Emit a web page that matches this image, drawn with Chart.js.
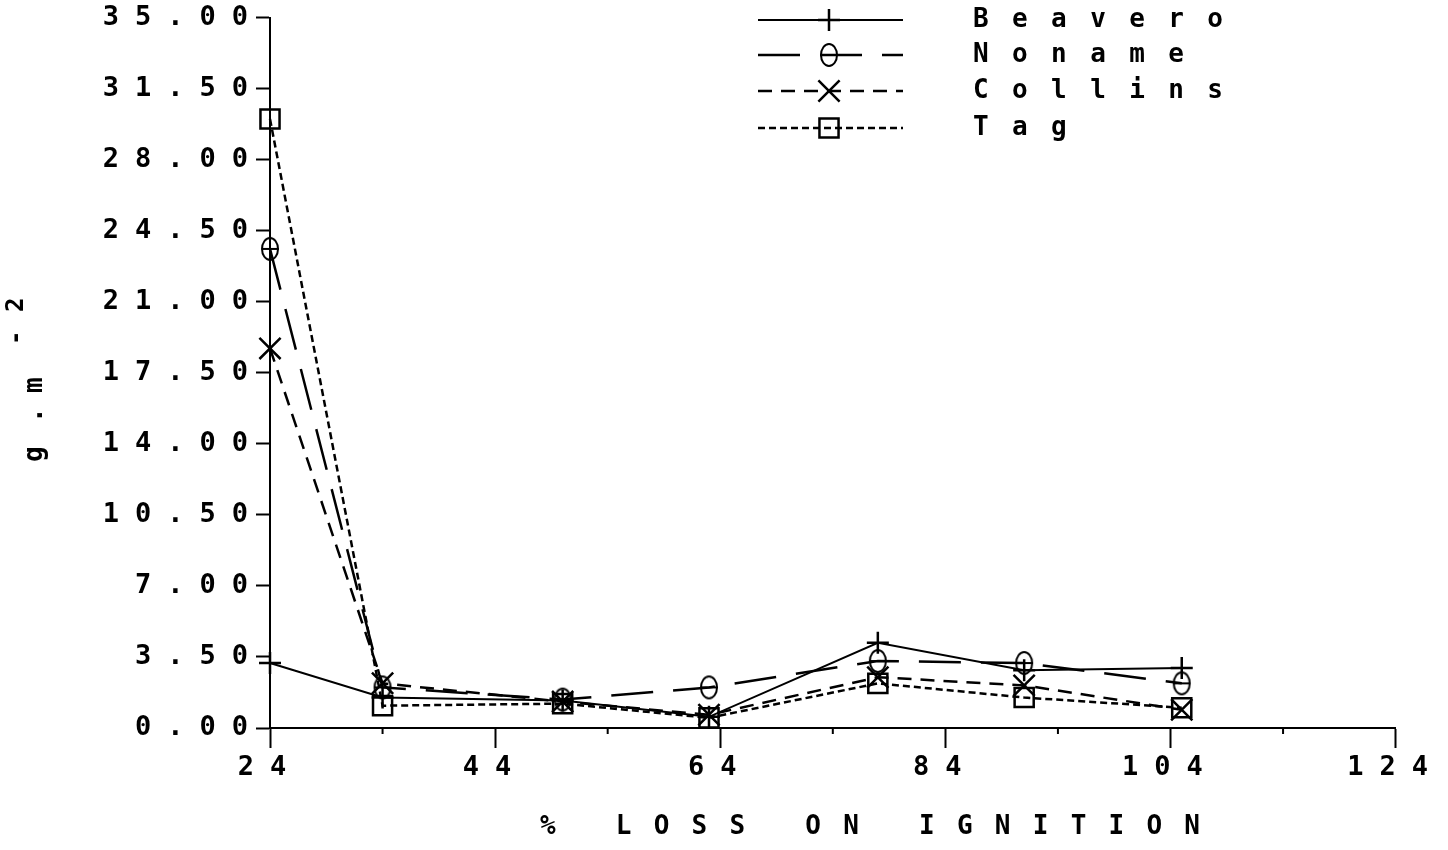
<!DOCTYPE html>
<html>
<head>
<meta charset="utf-8">
<script src="https://cdn.jsdelivr.net/npm/chart.js@4.4.1/dist/chart.umd.min.js"></script>
<style>
  html, body { margin: 0; padding: 0; background: #ffffff; }
  canvas { display: block; }
</style>
</head>
<body>
<canvas id="chart" width="1448" height="850"></canvas>
<script>
// % loss on ignition at each sampling depth
const lossOnIgnition = [24, 34, 50, 63, 78, 91, 105];

// biomass, g.m-2, for each lake
const beavero = [3.2, 1.5, 1.35, 0.55, 4.2, 2.85, 2.95];
const noname  = [23.6, 2.0, 1.4, 2.0, 3.3, 3.2, 2.2];
const collins = [18.7, 2.2, 1.3, 0.65, 2.5, 2.1, 0.9];
const tag     = [30.0, 1.1, 1.2, 0.5, 2.2, 1.5, 1.0];

const seriesNames = ['Beavero', 'Noname', 'Collins', 'Tag'];

// axis ranges and tick steps
const xRange = [24, 124];
const xMajorStep = 20;
const xMinorStep = 10;
const yRange = [0, 35];
const yStep = 3.5;

const xTitle = '% LOSS ON IGNITION';
const yTitle = ['g', '.', 'm', '-', '2'];

const FONT = "'DejaVu Sans Mono', 'Liberation Mono', monospace";
const TICK_SPACING = '16px';

function pairs(values) {
  return lossOnIgnition.map((x, i) => ({ x, y: values[i] }));
}

// hollow theta marker
function thetaMarker() {
  const c = document.createElement('canvas');
  c.width = 24; c.height = 28;
  const g = c.getContext('2d');
  g.strokeStyle = '#000';
  g.lineWidth = 2;
  g.beginPath();
  g.ellipse(12, 14, 8, 11, 0, 0, Math.PI * 2);
  g.stroke();
  g.beginPath();
  g.moveTo(4, 14);
  g.lineTo(21, 14);
  g.stroke();
  return c;
}

const seriesStyle = [
  { values: beavero, dash: [],       width: 2,   point: 'cross',    radius: 11 },
  { values: noname,  dash: [42, 20], width: 2.5, point: thetaMarker(), radius: 12 },
  { values: collins, dash: [14, 9],  width: 2.5, point: 'crossRot', radius: 15 },
  { values: tag,     dash: [7, 4],   width: 2.5, point: 'rect',     radius: 13.5 }
];

const datasets = seriesNames.map((name, i) => {
  const s = seriesStyle[i];
  return {
    label: name,
    data: pairs(s.values),
    borderColor: '#000',
    borderWidth: s.width,
    borderDash: s.dash,
    pointStyle: s.point,
    pointRadius: s.radius,
    pointHoverRadius: s.radius,
    pointBorderWidth: 2.5,
    pointBorderColor: '#000',
    pointBackgroundColor: 'rgba(0,0,0,0)',
    fill: false,
    tension: 0,
    clip: false
  };
});

function drawMarker(ctx, ds, x, y) {
  ctx.save();
  ctx.strokeStyle = '#000';
  ctx.fillStyle = 'rgba(0,0,0,0)';
  ctx.lineWidth = ds.pointBorderWidth;
  ctx.setLineDash([]);
  if (Chart.helpers && Chart.helpers.drawPoint) {
    Chart.helpers.drawPoint(ctx, {
      pointStyle: ds.pointStyle, radius: ds.pointRadius,
      borderWidth: ds.pointBorderWidth, rotation: 0
    }, x, y);
  }
  ctx.restore();
}

function spacedText(ctx, text, x, y, width) {
  ctx.letterSpacing = '0px';
  const w0 = ctx.measureText(text).width;
  const s = (width - w0) / (text.length - 1);
  ctx.letterSpacing = s + 'px';
  ctx.fillText(text, x, y);
  return s;
}

const plotterDecor = {
  id: 'plotterDecor',
  beforeUpdate(chart) { chart.ctx.letterSpacing = TICK_SPACING; },
  beforeDraw(chart) { chart.ctx.letterSpacing = TICK_SPACING; },
  afterDraw(chart) {
    const ctx = chart.ctx;
    const xs = chart.scales.x;
    const axisY = chart.chartArea.bottom;

    // minor ticks on the x axis
    ctx.save();
    ctx.strokeStyle = '#000';
    ctx.lineWidth = 2;
    for (let v = xRange[0] + xMinorStep; v < xRange[1]; v += xMajorStep) {
      const px = xs.getPixelForValue(v);
      ctx.beginPath();
      ctx.moveTo(px, axisY);
      ctx.lineTo(px, axisY + 6);
      ctx.stroke();
    }
    ctx.restore();

    // legend, top right
    ctx.save();
    ctx.fillStyle = '#000';
    ctx.strokeStyle = '#000';
    ctx.font = 'bold 26px ' + FONT;
    ctx.textBaseline = 'middle';
    ctx.textAlign = 'left';
    ctx.letterSpacing = '0px';
    const refW = ctx.measureText(seriesNames[0]).width;
    const legendSpacing = (250 - refW) / (seriesNames[0].length - 1);
    const rows = [20, 55, 91, 128];
    chart.data.datasets.forEach((ds, i) => {
      const y = rows[i];
      ctx.beginPath();
      ctx.setLineDash(ds.borderDash);
      ctx.lineWidth = ds.borderWidth;
      ctx.moveTo(758, y);
      ctx.lineTo(903, y);
      ctx.stroke();
      ctx.setLineDash([]);
      drawMarker(ctx, ds, 829, y);
      ctx.letterSpacing = legendSpacing + 'px';
      ctx.fillText(ds.label, 973, y);
    });
    ctx.restore();

    // x axis title
    ctx.save();
    ctx.fillStyle = '#000';
    ctx.font = 'bold 26px ' + FONT;
    ctx.textBaseline = 'middle';
    ctx.textAlign = 'left';
    spacedText(ctx, xTitle, 540, 827, 660);
    ctx.restore();

    // y axis title, rotated, with superscript exponent
    ctx.save();
    ctx.fillStyle = '#000';
    ctx.textBaseline = 'alphabetic';
    ctx.textAlign = 'left';
    ctx.letterSpacing = '0px';
    ctx.translate(42, 465);
    ctx.rotate(-Math.PI / 2);
    ctx.font = 'bold 26px ' + FONT;
    ctx.fillText(yTitle[0], 3, 0);
    ctx.fillText(yTitle[1], 42, 0);
    ctx.fillText(yTitle[2], 72, 0);
    ctx.font = 'bold 24px ' + FONT;
    ctx.fillText(yTitle[3], 120, -19);
    ctx.fillText(yTitle[4], 153, -19);
    ctx.restore();
  }
};

new Chart(document.getElementById('chart'), {
  type: 'line',
  data: { datasets },
  plugins: [plotterDecor],
  options: {
    responsive: false,
    animation: false,
    devicePixelRatio: 1,
    layout: { padding: { left: 0, right: 51, top: 17, bottom: 0 } },
    plugins: {
      legend: { display: false },
      tooltip: { enabled: false },
      title: { display: false }
    },
    scales: {
      x: {
        type: 'linear',
        min: xRange[0],
        max: xRange[1],
        ticks: {
          stepSize: xMajorStep,
          color: '#000',
          font: { family: FONT, size: 27, weight: 'bold' },
          padding: 4,
          maxRotation: 0,
          autoSkip: false
        },
        grid: {
          drawOnChartArea: false,
          drawTicks: true,
          tickLength: 20,
          tickWidth: 2,
          tickColor: '#000',
          color: '#000'
        },
        border: { display: true, color: '#000', width: 2 },
        afterFit(scale) { scale.height = 122; }
      },
      y: {
        type: 'linear',
        min: yRange[0],
        max: yRange[1],
        ticks: {
          stepSize: yStep,
          color: '#000',
          font: { family: FONT, size: 27, weight: 'bold' },
          padding: -8,
          callback: (v) => Number(v).toFixed(2)
        },
        grid: {
          drawOnChartArea: false,
          drawTicks: true,
          tickLength: 14,
          tickWidth: 2,
          tickColor: '#000',
          color: '#000'
        },
        border: { display: true, color: '#000', width: 2 },
        afterFit(scale) { scale.width = 270; }
      }
    }
  }
});
</script>
</body>
</html>
